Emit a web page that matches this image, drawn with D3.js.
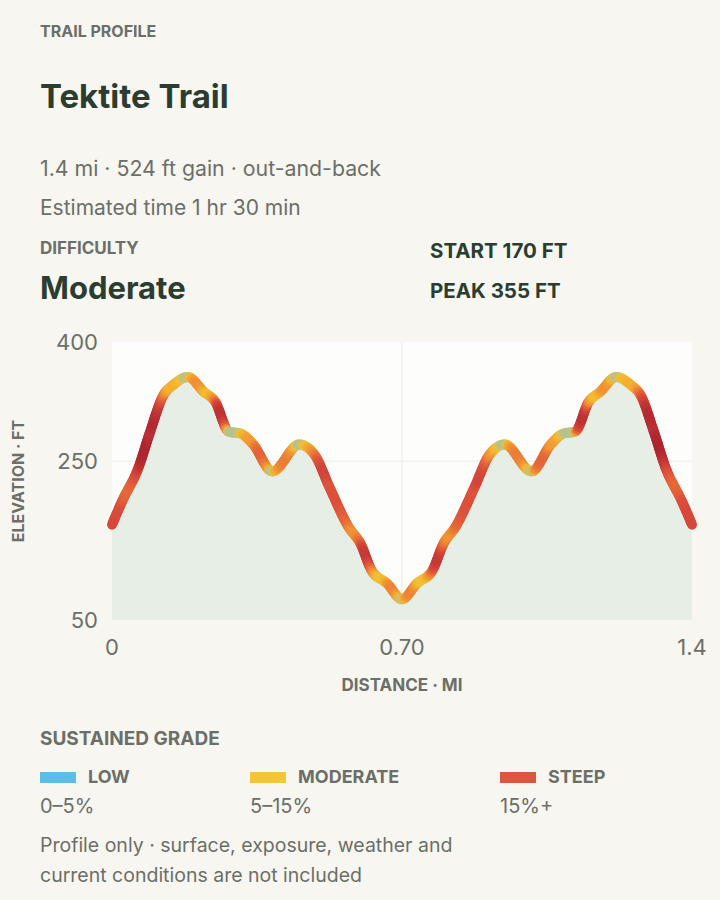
<!DOCTYPE html><html><head><meta charset="utf-8">
<script src="https://cdn.jsdelivr.net/npm/d3@7/dist/d3.min.js"></script>
<style>body{margin:0;background:#f7f6f1;font-family:Inter,"Noto Sans",sans-serif}</style></head><body>
<svg id="c" width="720" height="900"></svg>
<script>
const distance = [0,0.023,0.064,0.092,0.124,0.148,0.183,0.222,0.249,0.282,0.309,0.341,0.387,0.452,0.489,0.525,0.571,0.600,0.627,0.664,0.700,
  0.736,0.773,0.800,0.829,0.875,0.911,0.948,1.013,1.059,1.091,1.118,1.151,1.178,1.217,1.252,1.276,1.308,1.336,1.377,1.4];
const elevation = [170,198,242,287,333,346,356,337,325,287,285,271,237,271,258,217,167,146,112,96,76,
  96,112,146,167,217,258,271,237,271,285,287,325,337,356,346,333,287,242,198,170];
const xTicks = [0,0.70,1.4], xTickLabels = ["0","0.70","1.4"];
const yTicks = [50,250,400];
const legendNames = ["LOW","MODERATE","STEEP"], legendRanges = ["0–5%","5–15%","15%+"], legendColors = ["#5bbde8","#f5c634","#de5640"];

const svg = d3.select("#c");
const gray="#6b6f68", dark="#2b3d31";
const T=(x,y,t,s,w,c,a)=>svg.append("text").attr("x",x).attr("y",y).text(t).attr("font-size",s).attr("font-weight",w).attr("fill",c).attr("text-anchor",a||"start");
T(40,37,"TRAIL PROFILE",16,700,gray);
T(40,108,"Tektite Trail",33,700,dark);
T(40,176,"1.4 mi · 524 ft gain · out-and-back",21.3,400,gray);
T(40,215,"Estimated time 1 hr 30 min",21,400,gray);
T(40,254,"DIFFICULTY",17,700,gray);
T(40,299,"Moderate",31,700,dark);
T(430,258,"START 170 FT",20.5,700,dark);
T(430,298,"PEAK 355 FT",20.5,700,dark);

const x=d3.scaleLinear().domain([0,1.4]).range([112,692]);
const y=d3.scaleLinear().domain([50,400]).range([620,342]);
svg.append("rect").attr("x",112).attr("y",342).attr("width",580).attr("height",278).attr("fill","#fdfdfb");
svg.append("line").attr("x1",112).attr("x2",692).attr("y1",y(250)).attr("y2",y(250)).attr("stroke","#ebebe6");
svg.append("line").attr("x1",x(0.7)).attr("x2",x(0.7)).attr("y1",342).attr("y2",620).attr("stroke","#ebebe6");
const pts=distance.map((d,i)=>[d,elevation[i]]);
const curve=d3.curveMonotoneX;
svg.append("path").attr("d",d3.area().x(d=>x(d[0])).y0(y(50)).y1(d=>y(d[1])).curve(curve)(pts)).attr("fill","#e6eee6");
const tmp=svg.append("path").attr("d",d3.line().x(d=>x(d[0])).y(d=>y(d[1])).curve(curve)(pts)).attr("fill","none");
const L=tmp.node().getTotalLength(), N=400;
const sp=d3.range(N+1).map(i=>tmp.node().getPointAtLength(L*i/N));
tmp.remove();
const col=d3.scaleLinear().domain([0,0.06,0.13,0.22,0.32]).range(["#a9c2a6","#f5bf2e","#ef8a35","#dd4f3b","#ad2430"]).clamp(true);
for(let i=0;i<N;i++){
  const a=sp[i],b=sp[i+1];
  const dx=(x.invert(b.x)-x.invert(a.x))*5280, dy=y.invert(b.y)-y.invert(a.y);
  const g=Math.abs(dy/(dx||1e-6));
  svg.append("line").attr("x1",a.x).attr("y1",a.y).attr("x2",b.x).attr("y2",b.y)
    .attr("stroke",col(g)).attr("stroke-width",10).attr("stroke-linecap","round");
}
xTicks.forEach((t,i)=>T(x(t),655,xTickLabels[i],22,400,gray,"middle"));
yTicks.forEach(t=>T(98,y(t)+8,t,22,400,gray,"end"));
T(402,691,"DISTANCE · MI",17,700,gray,"middle");
svg.append("text").attr("transform","translate(24,481) rotate(-90)").attr("text-anchor","middle").text("ELEVATION · FT").attr("font-size",16).attr("font-weight",700).attr("fill",gray);
T(40,745,"SUSTAINED GRADE",19,700,gray);
[40,250,500].forEach((lx,i)=>{
  svg.append("rect").attr("x",lx).attr("y",772).attr("width",36).attr("height",11).attr("fill",legendColors[i]);
  T(lx+48,783,legendNames[i],18,700,gray);
  T(lx,813,legendRanges[i],20,400,gray);
});
T(40,852,"Profile only · surface, exposure, weather and",19.5,400,gray);
T(40,882,"current conditions are not included",19.5,400,gray);
</script></body></html>
